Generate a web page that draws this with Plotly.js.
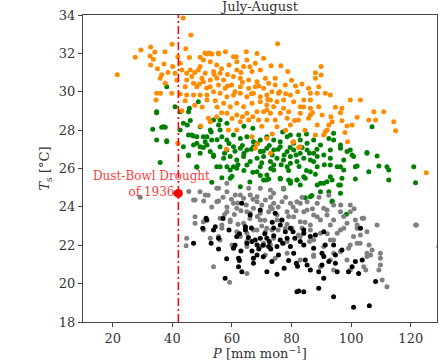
<!DOCTYPE html>
<html>
<head>
<meta charset="utf-8">
<script src="https://cdn.plot.ly/plotly-3.0.1.min.js"></script>
<style>html,body{margin:0;padding:0;background:#fff;}#chart{width:445px;height:361px;}</style>
</head>
<body>
<div id="chart"></div>
<script>
// ---- Data ----
const orangeP = [43.6,46.2,27.5,29.4,32.7,34.1,37.5,39.9,44.5,45.7,49.3,50.9,52.4,55.4,57.8,61.4,64.8,68.4,75.3,32.5,33.6,32.7,37.2,40.1,41.8,42.6,21.5,36.4,35.9,37.6,40.9,43.2,44.8,46.0,44.8,47.1,44.3,51.6,53.2,55.5,50.4,52.7,54.9,49.3,48.7,51.0,53.8,56.0,49.9,50.4,52.7,54.9,57.2,48.2,52.7,55.5,57.7,60.5,61.6,65.0,67.8,70.6,61.6,63.9,66.7,69.5,60.5,62.8,65.6,68.4,71.2,59.9,62.8,65.6,67.8,70.6,34.7,36.0,34.5,39.8,42.6,44.8,47.1,49.3,51.6,53.8,56.0,44.3,51.6,54.4,58.3,60.5,62.8,65.0,67.2,69.5,71.7,57.2,59.4,61.6,63.9,66.7,69.5,71.7,58.3,61.6,65.0,68.4,71.7,52.1,54.9,62.8,65.6,68.9,43.2,52.7,73.1,76.4,78.7,89.9,88.0,89.9,88.0,72.3,74.5,77.9,81.3,85.7,89.1,73.4,75.6,79.6,86.3,88.6,91.3,93.0,72.9,75.1,77.3,80.7,84.1,86.3,99.7,103.1,74.0,77.3,82.9,86.3,89.1,94.7,96.9,70.6,72.9,76.2,79.0,82.9,86.3,90.2,93.2,96.4,71.7,74.5,78.5,82.3,85.7,93.6,96.9,102.0,105.9,108.2,107.6,110.9,114.3,114.9,75.1,79.6,88.6,92.5,91.3,98.6,100.3,97.9,88.0,90.8,80.7,82.9,98.8,71.7,72.9,125.2,80.4,41.8,58.1,67.8,82.4,61.6,58.8,91.9,49.5,68.4,66.7,
  47.5,49.0,51.5,54.0,56.5,58.5,59.0,63.0,66.0,58.5,61.0,63.5,66.5,69.0,72.0,74.5,76.0,78.0,80.0,82.0,84.0,55.0,56.5,60.0,63.5,67.0,70.0,73.5,78.0,81.0,84.5,87.0,83.5,50.0,47.5,46.5,41.5,38.5,35.0];
const orangeT = [33.84,32.96,31.8,32.18,32.33,32.07,32.09,32.47,32.24,31.78,31.8,32.02,32.02,32.02,32.09,31.83,32.09,32.0,32.5,31.86,31.69,31.39,31.45,31.31,31.83,31.48,30.89,30.89,30.7,30.44,30.96,31.13,30.96,31.13,30.61,30.44,30.26,31.97,31.97,31.97,31.66,31.57,31.39,31.31,31.13,30.96,31.05,30.96,30.7,30.52,30.61,30.7,30.61,30.26,30.26,30.35,30.18,31.83,31.57,31.66,31.48,31.74,31.13,31.31,31.05,31.13,30.79,30.70,30.61,30.52,30.70,30.35,30.26,30.18,30.26,30.18,29.92,29.92,29.57,29.92,29.88,29.83,29.83,29.83,29.83,30.0,29.92,29.53,29.57,29.53,29.74,29.83,29.92,29.74,29.92,29.74,29.83,29.4,29.22,29.4,29.22,29.4,29.48,29.31,28.88,28.79,28.88,28.96,29.05,28.62,28.70,28.44,28.53,28.53,29.01,28.44,31.36,31.36,31.05,31.31,30.99,30.87,30.70,30.44,30.35,30.35,30.3,30.18,30.26,30.0,29.92,29.83,29.92,29.92,29.92,29.83,29.57,29.48,29.57,29.48,29.57,29.57,29.57,29.57,29.22,29.14,29.22,29.14,29.22,29.19,29.14,28.96,28.88,28.88,28.96,28.88,28.79,28.79,28.70,28.91,28.53,28.53,28.62,28.53,28.62,28.44,28.49,28.67,28.53,28.53,28.96,28.96,28.44,27.97,28.18,28.27,28.27,28.27,27.92,28.22,28.27,27.87,27.75,27.75,27.4,27.14,27.4,27.57,26.79,25.78,27.37,27.31,27.0,27.05,27.1,28.01,28.01,28.01,28.22,27.28,27.66,
  31.0,30.4,30.2,30.9,31.2,30.9,31.4,31.0,31.3,30.3,30.0,30.5,29.9,30.3,29.6,30.7,30.0,29.9,30.6,30.0,29.2,29.2,28.9,28.6,28.7,28.7,28.2,27.8,28.0,28.5,28.0,28.9,30.4,29.2,29.3,30.8,30.6,31.0,31.2];

const greenP = [38.1,40.9,45.7,48.7,34.7,42.6,45.4,33.4,36.4,37.6,34.7,38.1,35.9,45.0,42.6,45.4,48.2,50.4,49.3,52.7,53.8,55.5,43.7,47.1,49.3,51.6,53.2,45.4,49.3,53.8,48.2,56.0,56.6,58.3,60.5,62.8,65.0,67.2,69.5,71.7,74.0,76.2,78.5,80.7,82.9,85.2,87.4,89.7,56.0,58.3,60.5,62.8,65.0,67.2,69.5,71.7,74.0,76.2,78.5,80.7,82.9,85.2,87.4,57.2,59.4,61.6,63.9,66.1,68.4,70.6,72.9,75.1,77.3,79.6,81.8,84.1,86.3,88.6,93.0,94.1,96.4,98.6,100.8,105.3,108.7,107.0,97.5,96.4,101.4,112.0,121.0,93.0,88.6,78.5,74.0,69.5,65.0,60.5,56.0,79.6,82.4,94.1,92.5,96.4,99.7,100.3,105.3,102.0,105.9,109.3,112.6,121.6,112.6,90.8,93.0,95.3,97.5,96.9,93.0,90.8,88.6,95.8,86.3,84.1,81.8,79.0,76.2,77.3,74.0,86.3,93.6,87.4,79.6,34.7,37.0,38.1,45.4,43.7,46.5,51.6,48.2,50.4,52.7,53.8,54.9,58.3,59.4,61.6,68.4,71.7,70.6,56.0,58.3,56.6,59.4,53.2,62.8,69.5,72.3,76.2,77.3,79.6,81.8,84.6,89.7,91.9,93.6,96.4,101.4,89.7,92.5,96.4,84.6,86.8,93.6,98.4,79.6,82.9,48.2,
  59.0,61.0,63.5,64.0,66.5,68.5,70.5,72.5,73.5,75.5,77.5,79.5,81.5,83.5,86.0,88.5,62.0,64.0,67.0,70.0,73.0,76.5,79.0,82.5,85.0,88.0,91.0,60.0,66.0,71.5,55.0,57.5,53.0,51.0,47.0,46.0,85.0,77.0,67.0,64.0];
const greenT = [30.26,29.22,29.14,29.48,28.96,28.96,28.96,28.04,28.15,28.15,27.49,27.45,26.31,28.27,28.01,27.75,27.66,27.66,28.18,28.01,28.53,28.27,27.14,27.23,27.14,27.23,27.49,26.7,26.79,26.7,26.09,28.01,27.66,27.49,27.75,27.57,27.66,27.40,27.49,27.66,27.49,27.40,27.66,27.31,27.49,27.31,27.49,27.23,27.14,26.97,27.14,27.05,26.97,27.14,26.88,27.05,26.97,27.14,26.88,26.97,26.79,26.97,26.79,26.53,26.62,26.44,26.62,26.36,26.53,26.62,26.36,26.53,26.44,26.62,26.36,26.53,26.44,26.62,26.97,27.49,27.05,26.88,26.62,26.79,26.65,28.18,26.44,26.09,26.09,26.09,26.09,26.18,26.09,26.09,26.18,26.09,26.18,26.09,26.09,27.75,27.75,27.84,27.57,27.23,26.97,26.70,26.83,26.13,25.83,26.13,25.92,25.26,25.40,26.70,26.53,26.09,25.92,25.49,25.57,25.23,25.14,25.14,25.83,25.57,25.40,25.40,25.49,24.97,25.92,24.53,24.27,26.36,26.27,28.91,28.18,27.40,26.67,28.36,27.75,27.66,27.31,27.1,26.88,26.62,26.09,26.09,25.92,26.01,25.83,25.66,25.40,28.53,28.36,25.52,25.49,25.28,25.05,25.63,25.45,25.45,24.93,25.35,25.4,25.49,25.23,25.31,25.4,25.14,25.45,24.79,24.79,24.71,24.48,24.59,24.31,23.61,25.23,25.14,26.06,
  27.3,26.9,27.2,26.8,27.0,27.3,26.9,27.2,26.7,27.0,26.7,27.1,26.7,27.1,26.8,27.0,26.2,25.9,25.8,26.3,26.0,26.2,25.9,26.1,25.9,25.7,26.2,25.6,25.3,25.4,27.5,26.8,27.9,27.4,27.7,28.5,27.8,27.9,28.1,28.2];

const grayP = [49.3,53.2,55.5,58.3,54.9,58.3,61.1,63.9,66.1,68.4,71.2,74.0,76.8,79.6,81.8,61.6,65.0,67.2,69.5,72.3,75.1,78.5,80.7,47.6,50.4,56.0,59.4,56.6,61.6,65.0,68.4,71.2,73.4,77.9,80.1,44.8,44.6,55.5,60.0,65.0,70.6,74.0,78.5,71.2,74.5,53.8,65.0,59.2,47.1,51.0,60.5,65.6,69.5,72.9,77.3,29.2,40.9,47.6,112.0,110.4,109.8,109.8,109.8,107.0,108.7,105.3,104.2,102.0,98.6,96.4,100.8,102.0,105.3,104.2,121.6,94.1,91.9,96.4,88.6,89.7,93.0,94.1,99.1,82.9,85.2,86.3,82.9,87.4,78.5,72.9,75.1,74.0,68.4,62.8,58.3,54.9,55.5,58.3,59.4,56.6,63.9,66.1,69.5,67.2,71.7,62.8,65.0,69.5,72.9,77.3,82.9,87.4,93.0,98.6,89.7,94.1,99.7,47.6,50.4,52.7,56.0,121.9,129.4,109.3,104.9,106.5,106.0,103.1,103.7,101.4,99.7,102.0,97.5,99.7,96.4,95.3,99.7,94.1,90.8,88.6,85.2,84.1,87.4,91.9,82.9,86.3,89.7,93.0,82.3,94.1,90.8,87.4,105.3,
  57.0,59.8,62.0,64.8,67.0,70.0,73.0,75.5,78.0,80.5,83.5,57.5,60.8,63.0,66.0,68.5,71.0,73.5,76.5,79.0,81.5,84.5,62.0,64.5,70.0,75.5,78.5,83.5,87.0,89.2,92.5,52.0,50.5,45.5,86.0,92.0,97.5,96.5,101.0,103.0];
const grayT = [24.79,24.0,24.31,24.0,24.97,24.79,24.62,24.45,24.62,24.27,24.36,24.19,24.27,24.19,24.27,23.93,23.75,23.93,23.67,23.75,23.58,23.75,23.49,23.15,23.23,23.41,23.23,22.88,22.71,22.62,22.80,22.71,22.80,22.88,22.88,22.36,21.98,22.45,22.01,22.19,22.10,22.36,22.19,21.49,21.32,20.88,20.53,20.07,24.36,24.62,24.19,24.97,24.97,24.88,24.97,24.5,24.71,24.36,19.84,20.19,20.97,21.32,21.58,21.75,23.06,22.71,23.41,23.06,23.15,22.80,22.45,22.10,21.58,20.88,23.06,23.32,23.84,23.75,23.49,22.62,22.27,21.58,21.84,24.19,23.84,22.80,22.45,22.27,21.58,24.01,23.32,24.71,24.53,24.62,23.75,24.27,24.97,25.23,23.32,23.06,23.15,23.67,23.32,22.80,22.88,22.45,21.93,21.93,22.01,22.10,21.23,21.41,21.23,21.23,20.88,20.71,20.71,23.49,22.80,22.36,22.27,23.06,21.93,20.71,20.71,21.49,22.01,22.54,23.41,23.32,23.75,22.88,22.88,22.01,21.67,22.62,24.1,24.1,23.93,24.19,24.27,23.75,23.58,23.58,23.23,23.06,23.32,23.06,22.54,22.27,21.93,21.49,21.41,
  24.5,24.4,24.2,24.1,24.4,24.1,24.5,24.0,24.5,24.0,24.5,23.6,23.6,23.8,23.4,23.5,23.3,23.9,23.3,23.5,23.8,23.2,23.1,22.9,23.0,22.8,23.1,22.9,23.9,24.5,24.6,24.6,24.3,24.8,22.2,22.6,23.5,24.1,23.9,22.1];

const blackP = [51.3,50.2,54.4,53.8,47.1,60.5,62.2,62.2,63.3,57.7,61.6,64.5,66.1,69.5,66.7,67.8,68.4,69.5,71.7,72.3,68.4,67.2,71.7,75.1,73.4,75.1,75.6,76.2,76.2,76.8,74.5,78.5,79.6,80.7,81.6,81.1,81.8,103.1,96.9,103.7,101.4,100.3,99.1,102.5,108.2,94.7,95.3,94.7,92.5,90.8,89.1,82.4,84.1,94.1,100.8,106.1,89.1,86.3,85.2,90.2,84.6,90.8,87.4,90.2,84.1,88.0,90.8,91.3,84.1,86.3,79.6,94.1,63.3,55.5,64.5,77.9,82.9,84.1,67.2,51.6,62.5,65.5,66.7,70.5,71.0,74.0,73.0,
  59.0,61.0,63.0,65.0,66.5,69.0,70.5,72.5,74.0,77.0,79.0,80.5,82.0,77.5,62.5,58.2,55.5,53.0,57.0,73.5];
const blackT = [23.41,22.88,22.97,22.80,22.10,21.84,21.32,20.88,20.62,20.28,22.45,22.97,23.58,23.84,22.19,22.27,22.01,22.36,22.36,21.93,21.49,21.06,20.62,20.49,21.15,21.93,21.49,22.27,23.06,23.32,23.67,22.36,21.93,21.58,21.06,22.36,19.58,22.88,21.75,21.23,21.15,20.88,20.62,20.53,20.11,21.06,20.62,21.49,21.15,20.28,19.76,19.62,19.58,19.32,18.77,18.85,20.62,20.71,20.97,20.97,21.23,21.41,21.84,21.58,22.01,22.54,22.71,22.01,22.80,22.45,22.88,22.01,24.19,22.36,22.80,22.71,22.19,22.62,21.32,23.32,22.6,22.4,21.7,22.0,22.6,22.9,21.8,
  22.8,22.0,21.7,22.1,22.9,21.8,21.4,22.2,22.5,22.1,21.2,22.7,20.9,20.8,21.2,21.3,21.8,22.1,23.4,23.2];

const droughtP = [42];
const droughtT = [24.7];
const lineP = [42, 42];
const lineT = [18, 34];
const xTicks = [20, 40, 60, 80, 100, 120];
const yTicks = [18, 20, 22, 24, 26, 28, 30, 32, 34];

const serif = "DejaVu Serif, serif";
const mk = (c) => ({color: c, size: 5, line: {width: 0}});

const traces = [
  {x: greenP, y: greenT, type: 'scatter', mode: 'markers', marker: mk('#008000'), hoverinfo: 'skip'},
  {x: orangeP, y: orangeT, type: 'scatter', mode: 'markers', marker: mk('#ff8c00'), hoverinfo: 'skip'},
  {x: grayP, y: grayT, type: 'scatter', mode: 'markers', marker: mk('#808080'), hoverinfo: 'skip'},
  {x: blackP, y: blackT, type: 'scatter', mode: 'markers', marker: mk('#000000'), hoverinfo: 'skip'},
  {x: lineP, y: lineT, type: 'scatter', mode: 'lines', line: {color: '#ff0000', width: 1.5, dash: '8px,3px,2px,3px'}, hoverinfo: 'skip'},
  {x: droughtP, y: droughtT, type: 'scatter', mode: 'markers', marker: {color: '#ff0000', size: 9}, hoverinfo: 'skip'}
];

const axisCommon = {
  showgrid: false, zeroline: false, showline: true, mirror: true,
  linecolor: '#444', linewidth: 1, ticks: 'outside', ticklen: 4, tickcolor: '#444',
  tickfont: {family: serif, size: 13, color: '#333'}
};

const layout = {
  width: 445, height: 361,
  margin: {l: 83, r: 8, t: 15, b: 39},
  paper_bgcolor: '#fff', plot_bgcolor: '#fff',
  showlegend: false,
  font: {family: serif, color: '#333'},
  title: {text: 'July-August', font: {family: serif, size: 13, color: '#333'},
          x: 0.5, xref: 'paper', y: 0.983, yref: 'container', yanchor: 'middle'},
  xaxis: Object.assign({}, axisCommon, {
    range: [10, 128.8], tickvals: xTicks,
    title: {text: '<i>P</i> [mm mon<sup>−1</sup>]', font: {family: serif, size: 13, color: '#333'}, standoff: 2}
  }),
  yaxis: Object.assign({}, axisCommon, {
    range: [18, 34], tickvals: yTicks,
    title: {text: '<i>T</i><sub>s</sub> [°C]', font: {family: serif, size: 13, color: '#333'}, standoff: 6}
  }),
  annotations: [{
    x: 32.9, y: 25.2, xref: 'x', yref: 'y', showarrow: false,
    text: 'Dust-Bowl Drought<br>of 1936',
    font: {family: serif, size: 12, color: 'rgba(255,0,0,0.8)'}
  }]
};

Plotly.newPlot('chart', traces, layout, {displayModeBar: false, staticPlot: true});
</script>
</body>
</html>
